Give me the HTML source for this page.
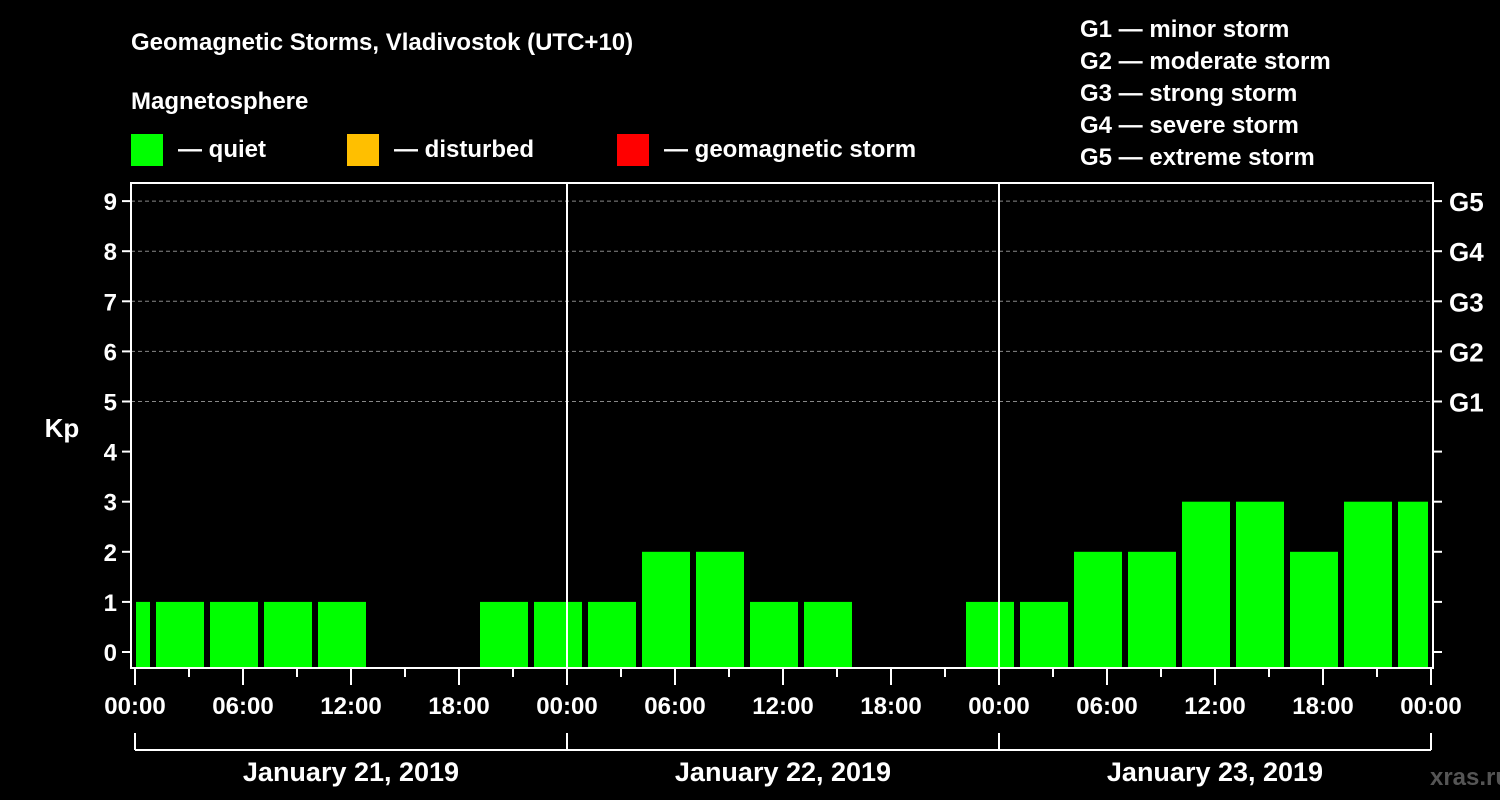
<!DOCTYPE html>
<html><head><meta charset="utf-8"><style>
body{margin:0;background:#000;}
svg{display:block;font-family:"Liberation Sans",Arial,sans-serif;font-weight:bold;}
</style></head><body>
<svg id="chart" width="1500" height="800" viewBox="0 0 1500 800">
<rect width="1500" height="800" fill="#000"/>
<text x="131" y="50" fill="#fff" font-size="24">Geomagnetic Storms, Vladivostok (UTC+10)</text>
<text x="131" y="109" fill="#fff" font-size="24">Magnetosphere</text>
<g><rect x="131" y="134" width="32" height="32" fill="#00ff00"/><text x="178" y="157" fill="#fff" font-size="24">— quiet</text></g>
<g><rect x="347" y="134" width="32" height="32" fill="#ffbf00"/><text x="394" y="157" fill="#fff" font-size="24">— disturbed</text></g>
<g><rect x="617" y="134" width="32" height="32" fill="#ff0000"/><text x="664" y="157" fill="#fff" font-size="24">— geomagnetic storm</text></g>
<g fill="#fff" font-size="24">
<text x="1080" y="37">G1 — minor storm</text>
<text x="1080" y="69">G2 — moderate storm</text>
<text x="1080" y="101">G3 — strong storm</text>
<text x="1080" y="133">G4 — severe storm</text>
<text x="1080" y="165">G5 — extreme storm</text>
</g>
<text x="62" y="437" fill="#fff" font-size="26" text-anchor="middle">Kp</text>
<text x="1470" y="785" fill="#555" font-size="24" text-anchor="middle">xras.ru</text>
<g id="plot"></g>
</svg>
<script>
const kpValues=[1,1,1,1,1,0,0,1,1,1,2,2,1,1,0,0,1,1,2,2,3,3,2,3,3];
const yTicks=[0,1,2,3,4,5,6,7,8,9];
const gLabels=["G1","G2","G3","G4","G5"];
const gLevels=[5,6,7,8,9];
const dayLabels=["January 21, 2019","January 22, 2019","January 23, 2019"];
const hourLabels=["00:00","06:00","12:00","18:00"];

const L=131,R=1433,T=183,B=668,X0=135,DAY=432;
const y=v=>652-v*50.1;
const x=h=>X0+h*DAY/24;
const ns="http://www.w3.org/2000/svg";
const g=document.getElementById('plot');
function mk(t,a,p){const e=document.createElementNS(ns,t);for(const k in a)e.setAttribute(k,a[k]);(p||g).appendChild(e);return e;}

// grid
yTicks.forEach(v=>{if(v>=5){const l=mk('line',{x1:L,x2:R,y1:y(v),y2:y(v),stroke:'#888','stroke-dasharray':'4,3','stroke-width':1});

}});
// bars: bins start at -2h (UTC 00 = 10 local -> bins at 1,4,7..)
kpValues.forEach((v,i)=>{if(v<=0)return;
 let h0=-2+i*3;let a=Math.max(x(h0)+3,L+5),b=Math.min(x(h0+3)-3,R-5);
 const r=mk('rect',{x:a,y:y(v),width:b-a,height:B-y(v),fill:'#00ff00'});
 
 });
// day separators
[1,2].forEach(d=>{const l=mk('line',{x1:x(d*24),x2:x(d*24),y1:T,y2:B,stroke:'#fff','stroke-width':2});

});
// frame
const f=mk('rect',{x:L,y:T,width:R-L,height:B-T,fill:'none',stroke:'#fff','stroke-width':2});


// y ticks left & right
yTicks.forEach(v=>{mk('line',{x1:L-9,x2:L,y1:y(v),y2:y(v),stroke:'#fff','stroke-width':2});
 mk('line',{x1:R,x2:R+9,y1:y(v),y2:y(v),stroke:'#fff','stroke-width':2});
 const t=mk('text',{x:L-14,y:y(v)+9,fill:'#fff','font-size':24,'text-anchor':'end'});t.textContent=v;
 
 });
gLevels.forEach((v,i)=>{const t=mk('text',{x:1449,y:y(v)+10,fill:'#fff','font-size':26});t.textContent=gLabels[i];
 
 });
// x ticks
for(let h=0;h<=72;h+=3){const major=h%6===0;mk('line',{x1:x(h),x2:x(h),y1:B,y2:B+(major?17:9),stroke:'#fff','stroke-width':2});}
for(let h=0;h<=72;h+=6){const t=mk('text',{x:x(h),y:714,fill:'#fff','font-size':24,'text-anchor':'middle'});t.textContent=hourLabels[(h/6)%4];
 
 }
// day brackets
mk('line',{x1:x(0),x2:x(72),y1:750,y2:750,stroke:'#fff','stroke-width':2});
for(let d=0;d<=3;d++)mk('line',{x1:x(d*24),x2:x(d*24),y1:733,y2:750,stroke:'#fff','stroke-width':2});
dayLabels.forEach((s,d)=>{const t=mk('text',{x:x(d*24+12),y:781,fill:'#fff','font-size':27,'text-anchor':'middle'});t.textContent=s;
 
 });
</script>
</body></html>
